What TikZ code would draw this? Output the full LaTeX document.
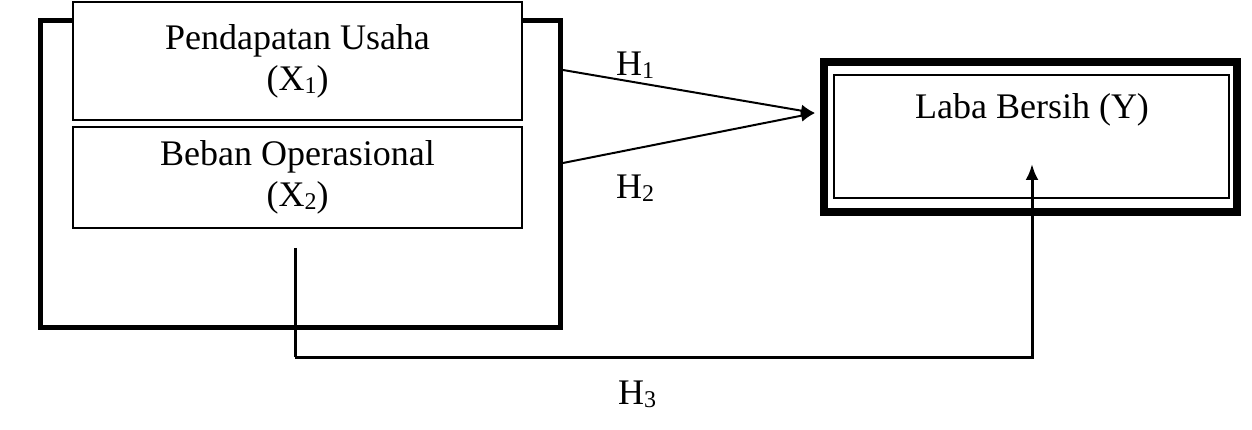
\documentclass[tikz,border=0pt]{standalone}
\usepackage{fontspec}
\setmainfont{Liberation Serif}
\usetikzlibrary{arrows.meta}
\newcommand{\sbx}[1]{{\fontsize{24}{24}\selectfont\raisebox{-3pt}{#1}}}
\begin{document}
\begin{tikzpicture}[x=1pt,y=-1pt,
  txt/.style={font=\fontsize{36}{41}\selectfont, align=center, inner sep=0pt},
  varbox/.style={draw, fill=white, line width=2.2pt, minimum width=449pt, inner sep=0pt, txt},
  conn/.style={line width=2pt, -{Latex[length=14pt,width=12pt]}},
  hlbl/.style={txt}]
\useasboundingbox (0,0) rectangle (1252,430);
% outer group box
\node[draw, line width=5pt, minimum width=520pt, minimum height=306pt, inner sep=0pt] (outer) at (300,174) {};
\node[varbox, minimum height=118pt] (x1) at (297.5,61) {Pendapatan Usaha\\(X\sbx{1})};
\node[varbox, minimum height=101pt] (x2) at (297.5,177.5) {Beban Operasional\\(X\sbx{2})};
% dependent box
\node[draw, line width=8pt, minimum width=413pt, minimum height=150pt, inner sep=0pt] (y) at (1030.5,137) {};
\node[draw, line width=2pt, minimum width=395pt, minimum height=123pt, inner sep=0pt] (yin) at (1031.5,136.5) {};
\node[txt] (ylbl) at (1032,110) {Laba Bersih (Y)};
% connectors
\coordinate (a1) at (563,70);
\coordinate (a2) at (563,163);
\coordinate (tip) at (815,113);
\draw[conn] (a1) -- (tip);
\draw[conn] (a2) -- (tip);
\coordinate (h3s) at (295,248);
\coordinate (h3a) at (295,357);
\coordinate (h3b) at (1032,357);
\coordinate (h3t) at (1032,164);
\draw[line width=3pt] (h3s) -- (h3a);
\draw[line width=3pt, -{Latex[length=16pt,width=13pt]}] (h3a) -- (h3b) -- (h3t);
% labels
\node[hlbl] (lh1) at (635,65) {H\sbx{1}};
\node[hlbl] (lh2) at (635,188) {H\sbx{2}};
\node[hlbl] (lh3) at (637,394) {H\sbx{3}};
\end{tikzpicture}
\end{document}
